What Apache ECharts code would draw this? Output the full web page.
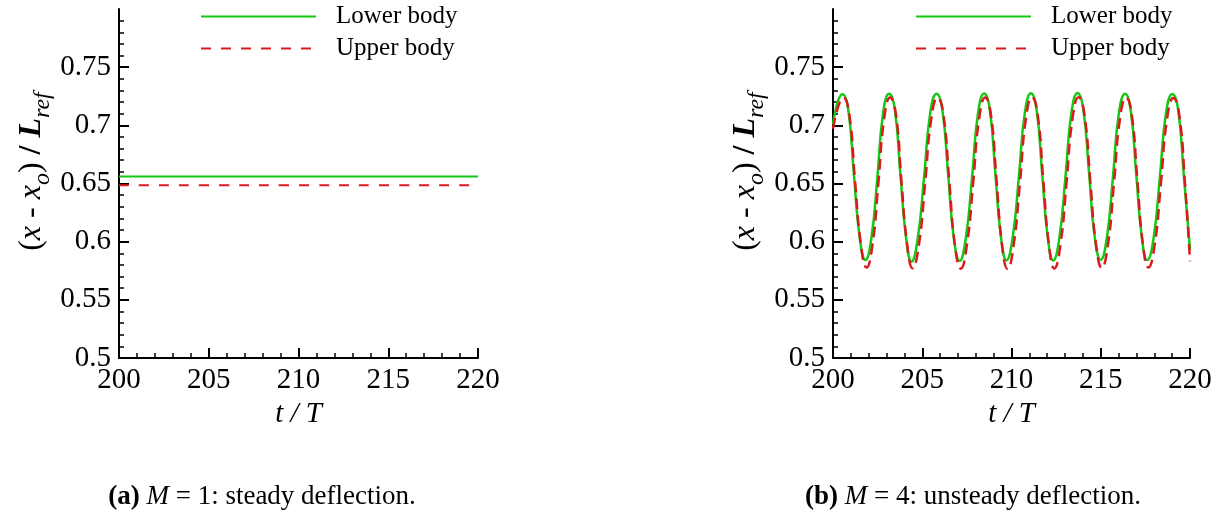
<!DOCTYPE html>
<html>
<head>
<meta charset="utf-8">
<script src="https://cdn.jsdelivr.net/npm/echarts@6/dist/echarts.min.js"></script>
<style>
  html, body { margin: 0; padding: 0; background: #fff; }
  #chart { width: 1225px; height: 513px; }
</style>
</head>
<body>
<div id="chart"></div>
<script>
// Series names and axis ticks
const seriesNames = ['Lower body', 'Upper body'];
const xTicks = [200, 205, 210, 215, 220];
const yTicks = [0.5, 0.55, 0.6, 0.65, 0.7, 0.75];

// (a) M = 1: steady deflection
const tSteady = [200, 205, 210, 215, 220];
const lowerSteady = [0.656, 0.656, 0.656, 0.656, 0.656];
const upperSteady = [0.6485, 0.6485, 0.6485, 0.6485, 0.6485];

// (b) M = 4: unsteady deflection, lower body
const tLower = [
  200.00, 200.53,
  200.85, 201.17, 201.50, 201.82, 202.15, 202.48, 202.81, 203.14,
  203.46, 203.77, 204.09, 204.40, 204.75, 205.10, 205.45, 205.80,
  206.12, 206.45, 206.77, 207.10, 207.44, 207.79, 208.13, 208.47,
  208.78, 209.10, 209.41, 209.72, 210.06, 210.41, 210.75, 211.09,
  211.40, 211.72, 212.03, 212.34, 212.68, 213.02, 213.36, 213.70,
  214.02, 214.35, 214.67, 215.00, 215.34, 215.68, 216.02, 216.36,
  216.67, 216.99, 217.30, 217.61, 217.96, 218.31, 218.66, 219.01,
  219.33, 219.66, 220.00
];
const lowerUnsteady = [
  0.701, 0.7267,
  0.714, 0.658, 0.603, 0.5843, 0.603, 0.654, 0.711, 0.7271,
  0.714, 0.659, 0.604, 0.5828, 0.603, 0.655, 0.711, 0.7272,
  0.714, 0.658, 0.603, 0.5835, 0.603, 0.655, 0.711, 0.7273,
  0.714, 0.658, 0.604, 0.5840, 0.603, 0.655, 0.711, 0.7275,
  0.714, 0.658, 0.604, 0.5838, 0.603, 0.655, 0.711, 0.7277,
  0.714, 0.658, 0.603, 0.5845, 0.603, 0.655, 0.711, 0.7272,
  0.714, 0.658, 0.604, 0.5842, 0.603, 0.655, 0.711, 0.7270,
  0.714, 0.656, 0.593
];

// (b) M = 4: unsteady deflection, upper body
const tUpper = [
  200.00, 200.59,
  200.91, 201.23, 201.56, 201.88, 202.21, 202.54, 202.87, 203.20,
  203.52, 203.83, 204.15, 204.46, 204.81, 205.16, 205.51, 205.86,
  206.18, 206.51, 206.83, 207.16, 207.50, 207.85, 208.19, 208.53,
  208.84, 209.16, 209.47, 209.78, 210.12, 210.47, 210.81, 211.15,
  211.46, 211.78, 212.09, 212.40, 212.74, 213.08, 213.42, 213.76,
  214.08, 214.41, 214.73, 215.06, 215.40, 215.74, 216.08, 216.42,
  216.73, 217.05, 217.36, 217.67, 218.02, 218.37, 218.72, 219.07,
  219.39, 219.72, 220.00
];
const upperUnsteady = [
  0.697, 0.7238,
  0.710, 0.653, 0.598, 0.5778, 0.597, 0.650, 0.706, 0.7240,
  0.710, 0.653, 0.598, 0.5772, 0.597, 0.650, 0.706, 0.7237,
  0.710, 0.653, 0.597, 0.5768, 0.597, 0.650, 0.706, 0.7239,
  0.710, 0.653, 0.597, 0.5765, 0.597, 0.650, 0.706, 0.7242,
  0.710, 0.653, 0.598, 0.5770, 0.597, 0.650, 0.706, 0.7241,
  0.710, 0.653, 0.598, 0.5774, 0.597, 0.650, 0.706, 0.7238,
  0.710, 0.653, 0.598, 0.5778, 0.597, 0.650, 0.706, 0.7236,
  0.710, 0.650, 0.583
];

const SERIF = '"Liberation Serif", "Times New Roman", serif';
const GREEN = '#14c814';
const RED = '#dc1a1e';

const zip = (xs, ys) => xs.map((x, i) => [x, ys[i]]);

// Axis title (x - x_o) / L_ref; subscripts sit at the bottom of a taller line box
const yName = '({i|x} - {i|x}{sub|o}) {b|/} {bi|L}{sub|ref}';
const yNameStyle = {
  fontFamily: SERIF, fontSize: 32, color: '#000', lineHeight: 46,
  padding: [0, 0, 0, 24],
  rich: {
    i: { fontFamily: SERIF, fontStyle: 'italic', fontSize: 32, lineHeight: 46 },
    b: { fontFamily: SERIF, fontWeight: 'bold', fontSize: 32, lineHeight: 46 },
    bi: { fontFamily: SERIF, fontStyle: 'italic', fontWeight: 'bold', fontSize: 32, lineHeight: 46 },
    sub: { fontFamily: SERIF, fontStyle: 'italic', fontSize: 24, lineHeight: 24, verticalAlign: 'bottom' }
  }
};

function xAxis(gridIndex) {
  return {
    type: 'value', gridIndex, min: 200, max: 220, interval: 5,
    name: 't / T', nameLocation: 'middle', nameGap: 40,
    nameTextStyle: { fontFamily: SERIF, fontStyle: 'italic', fontSize: 29, color: '#000' },
    axisLine: { show: true, onZero: false, lineStyle: { color: '#000', width: 2 } },
    axisTick: { show: true, inside: true, length: 10, lineStyle: { color: '#000', width: 2 } },
    minorTick: { show: true, splitNumber: 5, length: 5, lineStyle: { color: '#000', width: 1.5 } },
    axisLabel: { show: true, margin: 8, fontFamily: SERIF, fontSize: 29, color: '#000',
      customValues: xTicks },
    splitLine: { show: false }
  };
}

function yAxis(gridIndex) {
  return {
    type: 'value', gridIndex, min: 0.5, max: 0.8, interval: 0.05,
    name: yName, nameLocation: 'middle', nameRotate: 90, nameGap: 64,
    nameTextStyle: yNameStyle,
    axisLine: { show: true, onZero: false, lineStyle: { color: '#000', width: 2 } },
    axisTick: { show: true, inside: true, length: 10, lineStyle: { color: '#000', width: 2 },
      customValues: yTicks },
    minorTick: { show: true, splitNumber: 5, length: 5, lineStyle: { color: '#000', width: 1.5 } },
    axisLabel: { show: true, margin: 8, fontFamily: SERIF, fontSize: 29, color: '#000',
      customValues: yTicks, formatter: v => String(+v.toFixed(2)) },
    splitLine: { show: false }
  };
}

function legend(left) {
  return {
    left, top: 2, orient: 'vertical', padding: 0,
    itemWidth: 115, itemHeight: 2, itemGap: 3,
    data: seriesNames,
    itemStyle: { opacity: 0 },
    textStyle: { fontFamily: SERIF, fontSize: 25, color: '#000', lineHeight: 25, padding: [4, 0, 0, 15] }
  };
}

function line(name, xi, data, color, dash, width) {
  return {
    name, type: 'line', xAxisIndex: xi, yAxisIndex: xi, data,
    symbol: 'none', smooth: 0.5, animation: false,
    lineStyle: { color, width, type: dash || 'solid' },
    itemStyle: { color }
  };
}

const captionRich = {
  b: { fontFamily: SERIF, fontWeight: 'bold', fontSize: 27 },
  i: { fontFamily: SERIF, fontStyle: 'italic', fontSize: 27 }
};

const chart = echarts.init(document.getElementById('chart'));
chart.setOption({
  backgroundColor: '#fff',
  animation: false,
  grid: [
    { left: 119, right: 747, top: 9, bottom: 155 },
    { left: 833, right: 35, top: 9, bottom: 155 }
  ],
  xAxis: [xAxis(0), xAxis(1)],
  yAxis: [yAxis(0), yAxis(1)],
  legend: [legend(200), legend(915)],
  series: [
    line(seriesNames[0], 0, zip(tSteady, lowerSteady), GREEN, null, 2),
    line(seriesNames[1], 0, zip(tSteady, upperSteady), RED, [10, 10], 2),
    line(seriesNames[0], 1, zip(tLower, lowerUnsteady), GREEN, null, 2.5),
    line(seriesNames[1], 1, zip(tUpper, upperUnsteady), RED, [11, 6], 2.5)
  ],
  graphic: [
    {
      type: 'text', x: 262, y: 497,
      style: {
        text: '{b|(a)} {i|M} = 1: steady deflection.',
        align: 'center', verticalAlign: 'middle',
        fontFamily: SERIF, fontSize: 27, fill: '#000', rich: captionRich
      }
    },
    {
      type: 'text', x: 973, y: 497,
      style: {
        text: '{b|(b)} {i|M} = 4: unsteady deflection.',
        align: 'center', verticalAlign: 'middle',
        fontFamily: SERIF, fontSize: 27, fill: '#000', rich: captionRich
      }
    }
  ]
});
</script>
</body>
</html>
